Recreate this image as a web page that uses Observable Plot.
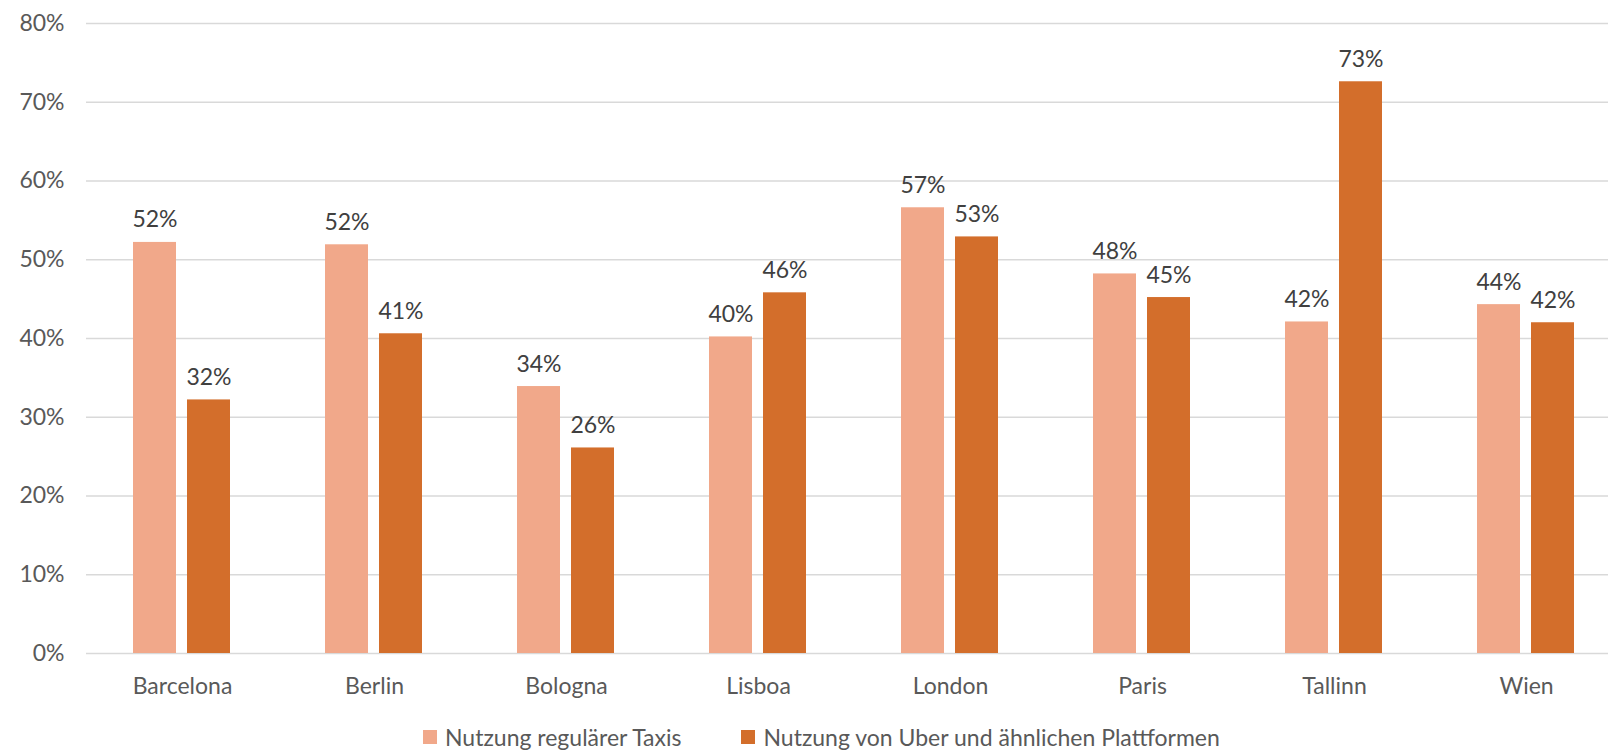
<!DOCTYPE html>
<html>
<head>
<meta charset="utf-8">
<script src="https://cdn.jsdelivr.net/npm/d3@7"></script>
<script src="https://cdn.jsdelivr.net/npm/@observablehq/plot@0.6"></script>
<style>
  html, body { margin: 0; padding: 0; background: #fff; }
  #chart { width: 1608px; height: 751px; position: relative; font-family: Lato, sans-serif; }
  #legend { position: absolute; left: 423px; top: 723px; display: flex; align-items: center; font-size: 23px; color: #595959; white-space: nowrap; }
  .item { display: flex; align-items: center; margin-right: 60px; }
  .sw { width: 14px; height: 14px; margin-right: 8px; }
</style>
</head>
<body>
<div id="chart"></div>
<script>
const cities = ["Barcelona", "Berlin", "Bologna", "Lisboa", "London", "Paris", "Tallinn", "Wien"];
const seriesNames = ["Nutzung regulärer Taxis", "Nutzung von Uber und ähnlichen Plattformen"];
const taxiValues = [52.2, 51.9, 33.9, 40.2, 56.6, 48.2, 42.1, 44.3];
const uberValues = [32.2, 40.6, 26.1, 45.8, 52.9, 45.2, 72.6, 42.0];
const yTicks = [0, 10, 20, 30, 40, 50, 60, 70, 80];
const colors = ["#F1A88A", "#D36E2B"];

const data = cities.flatMap((c, i) => [
  {city: c, series: seriesNames[0], value: taxiValues[i]},
  {city: c, series: seriesNames[1], value: uberValues[i]}
]);

const chart = Plot.plot({
  width: 1608,
  height: 710,
  marginLeft: 83,
  marginRight: 0,
  marginTop: 23,
  marginBottom: 57,
  style: {fontFamily: "Lato, sans-serif", fontSize: "23px", color: "#595959", background: "white", overflow: "hidden"},
  fx: {domain: cities, padding: 0, range: [83, 1624], label: null},
  x: {domain: seriesNames, paddingInner: 0.2, paddingOuter: 0.855, axis: null},
  y: {domain: [0, 80], label: null},
  color: {domain: seriesNames, range: colors},
  marks: [
    Plot.gridY(yTicks, {stroke: "#D9D9D9", strokeOpacity: 1, strokeWidth: 1.3}),
    Plot.axisY(yTicks, {tickSize: 0, tickPadding: 22, tickFormat: d => d + "%", label: null}),
    Plot.barY(data, {fx: "city", x: "series", y: "value", fill: "series"}),
    Plot.text(data, {fx: "city", x: "series", y: "value", text: d => Math.round(d.value) + "%", lineAnchor: "bottom", dy: -15, fill: "#404040"}),
    Plot.axisFx({anchor: "bottom", tickSize: 0, tickPadding: 24, label: null})
  ]
});

const root = document.getElementById("chart");
root.appendChild(chart);

const legend = document.createElement("div");
legend.id = "legend";
seriesNames.forEach((s, i) => {
  const item = document.createElement("div");
  item.className = "item";
  const sw = document.createElement("span");
  sw.className = "sw";
  sw.style.background = colors[i];
  const label = document.createElement("span");
  label.textContent = s;
  item.appendChild(sw);
  item.appendChild(label);
  legend.appendChild(item);
});
root.appendChild(legend);
</script>
</body>
</html>
